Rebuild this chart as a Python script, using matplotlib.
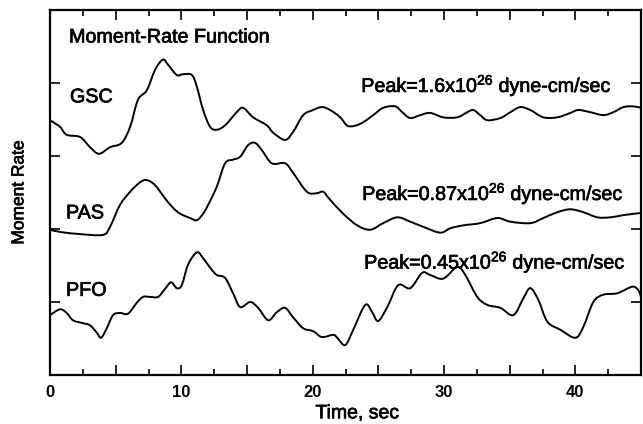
import matplotlib
matplotlib.use("Agg")
import matplotlib.pyplot as plt
import matplotlib.patheffects as pe
from matplotlib.path import Path
from matplotlib.patches import PathPatch
from matplotlib.ticker import MultipleLocator, FuncFormatter

plt.rcParams['font.family'] = ['Liberation Sans', 'DejaVu Sans']
plt.rcParams['mathtext.fontset'] = 'custom'
plt.rcParams['mathtext.rm'] = 'Liberation Sans'
plt.rcParams['mathtext.it'] = 'Liberation Sans:italic'
plt.rcParams['mathtext.bf'] = 'Liberation Sans:bold'

# Time (sec) and relative moment rate (stacked, arbitrary units)
gsc_t = [0.0, 0.76, 1.27, 2.29, 3.05, 3.73, 4.57, 5.46, 6.10, 6.70, 7.37, 8.00, 8.59, 8.99,
         9.65, 10.13, 10.80, 11.18, 11.66, 12.19, 12.70, 13.33, 14.22, 14.70, 15.47, 16.51,
         16.99, 17.90, 18.51, 19.28, 20.04, 20.70, 21.33, 22.10, 22.70, 23.62, 24.61, 25.37,
         26.29, 26.82, 27.43, 28.19, 28.95, 29.94, 31.01, 31.77, 32.23, 32.76, 33.30, 34.29,
         35.05, 35.81, 36.57, 37.56, 38.63, 39.62, 40.23, 41.14, 42.13, 42.90, 43.66, 44.42, 45.0]
gsc_v = [3.49, 3.40, 3.29, 3.26, 3.12, 3.03, 3.12, 3.18, 3.40, 3.77, 3.90, 4.18, 4.32, 4.25,
         4.11, 4.12, 4.11, 3.95, 3.63, 3.40, 3.36, 3.42, 3.60, 3.66, 3.53, 3.42,
         3.32, 3.22, 3.33, 3.56, 3.63, 3.67, 3.63, 3.53, 3.41, 3.44, 3.56, 3.66,
         3.68, 3.60, 3.52, 3.56, 3.59, 3.53, 3.53, 3.60, 3.63, 3.56, 3.49, 3.52,
         3.60, 3.67, 3.63, 3.53, 3.53, 3.59, 3.63, 3.60, 3.56, 3.60, 3.67, 3.68, 3.66]

pas_t = [0.0, 0.76, 2.29, 4.04, 4.57, 5.33, 6.10, 6.86, 7.37, 8.00, 8.76, 9.37, 9.90, 10.67,
         11.18, 11.66, 12.04, 12.70, 13.33, 13.94, 14.48, 15.09, 15.62, 16.13, 16.89, 17.90,
         18.51, 19.56, 20.32, 20.80, 21.33, 22.32, 23.39, 24.38, 25.37, 26.44, 27.43, 28.42,
         29.71, 30.48, 31.47, 32.76, 34.06, 35.05, 36.57, 37.56, 38.63, 39.62, 40.61, 41.68,
         42.67, 43.66, 45.0]
pas_v = [1.99, 1.96, 1.93, 1.92, 2.03, 2.33, 2.51, 2.64, 2.67, 2.60, 2.42, 2.29, 2.21, 2.15,
         2.12, 2.21, 2.33, 2.58, 2.90, 2.95, 2.99, 3.15, 3.18, 3.08, 2.90, 2.90,
         2.77, 2.51, 2.49, 2.51, 2.40, 2.21, 2.05, 1.99, 2.08, 2.16, 2.10, 2.03,
         1.95, 2.01, 2.05, 2.08, 2.15, 2.10, 2.08, 2.15, 2.23, 2.27, 2.23, 2.16,
         2.16, 2.19, 2.22]

pfo_t = [0.0, 0.76, 1.27, 1.75, 2.51, 3.05, 3.56, 3.89, 4.32, 4.80, 5.33, 5.94, 6.61, 7.09,
         7.62, 8.23, 8.76, 9.22, 9.65, 10.03, 10.51, 11.18, 11.66, 12.19, 12.70, 13.33,
         13.94, 14.48, 15.24, 15.85, 16.61, 17.27, 17.90, 18.51, 19.28, 20.04, 20.70, 21.56,
         21.87, 22.48, 23.09, 24.00, 24.53, 24.99, 25.68, 26.51, 27.43, 28.34, 28.95, 29.94,
         31.01, 31.62, 32.53, 33.30, 34.29, 35.28, 36.04, 36.57, 37.18, 37.87, 38.86, 40.00,
         40.61, 41.37, 42.13, 43.20, 44.34, 44.80, 45.0]
pfo_v = [0.82, 0.90, 0.85, 0.75, 0.71, 0.68, 0.58, 0.51, 0.64, 0.82, 0.85, 0.84, 0.99, 1.07,
         1.07, 1.07, 1.18, 1.27, 1.19, 1.23, 1.51, 1.68, 1.60, 1.47, 1.37, 1.33,
         1.12, 0.93, 1.00, 0.92, 0.75, 0.86, 0.92, 0.79, 0.64, 0.60, 0.52, 0.55,
         0.51, 0.41, 0.62, 0.96, 0.86, 0.74, 0.93, 1.23, 1.19, 1.40, 1.37, 1.32,
         1.48, 1.37, 1.07, 0.96, 0.92, 0.82, 1.05, 1.19, 1.03, 0.73, 0.62, 0.51,
         0.66, 1.00, 1.10, 1.12, 1.21, 1.16, 1.07]

stations = ["GSC", "PAS", "PFO"]
peaks = ["Peak=1.6x10$^{26}$ dyne-cm/sec", "Peak=0.87x10$^{26}$ dyne-cm/sec",
         "Peak=0.45x10$^{26}$ dyne-cm/sec"]


def smooth_path(t, v):
    """Catmull-Rom curve through the read points, as cubic Bezier segments."""
    pts = list(zip(t, v))
    verts = [pts[0]]
    codes = [Path.MOVETO]
    n = len(pts)
    for i in range(n - 1):
        p0 = pts[i - 1] if i > 0 else pts[i]
        p1 = pts[i]
        p2 = pts[i + 1]
        p3 = pts[i + 2] if i + 2 < n else pts[i + 1]
        c1 = (p1[0] + (p2[0] - p0[0]) / 6, p1[1] + (p2[1] - p0[1]) / 6)
        c2 = (p2[0] - (p3[0] - p1[0]) / 6, p2[1] - (p3[1] - p1[1]) / 6)
        verts += [c1, c2, p2]
        codes += [Path.CURVE4] * 3
    return Path(verts, codes)


fig = plt.figure(figsize=(6.43, 4.24), dpi=100)
ax = fig.add_axes([50/643, 49/424, 591/643, 365/424])

for t, v in [(gsc_t, gsc_v), (pas_t, pas_v), (pfo_t, pfo_v)]:
    ax.add_patch(PathPatch(smooth_path(t, v), facecolor='none', edgecolor='black',
                           lw=1.4, joinstyle='round', capstyle='round'))

ax.set_xlim(0, 45)
ax.set_ylim(0, 5)

ax.xaxis.set_major_locator(MultipleLocator(5))
ax.xaxis.set_minor_locator(MultipleLocator(2.5))
ax.xaxis.set_major_formatter(FuncFormatter(lambda x, p: f"{int(x)}" if int(round(x)) % 10 == 0 else ""))
ax.yaxis.set_major_locator(MultipleLocator(1))
ax.set_yticklabels([])
ax.tick_params(axis='both', which='both', direction='in', top=True, right=True, width=1.2)
ax.tick_params(axis='both', which='major', length=7, labelsize=12, pad=7)
ax.tick_params(axis='x', which='minor', length=4)
ax.tick_params(axis='y', which='minor', left=False, right=False)
for lab in ax.get_xticklabels():
    lab.set_fontweight('bold')
for sp in ax.spines.values():
    sp.set_linewidth(1.6)

heavy = [pe.withStroke(linewidth=0.5, foreground='black')]

ax.set_xlabel("Time, sec", fontsize=14, labelpad=5, path_effects=heavy)
ax.xaxis.set_label_coords(0.52, -0.083)
ax.set_ylabel("Moment Rate", fontsize=12.5, labelpad=10, path_effects=heavy)

fs = 14.2
ax.text(1.45, 4.63, "Moment-Rate Function", fontsize=fs, va='center', ha='left', path_effects=heavy)
ax.text(1.52, 3.81, stations[0], fontsize=fs, va='center', ha='left', path_effects=heavy)
ax.text(1.22, 2.22, stations[1], fontsize=fs, va='center', ha='left', path_effects=heavy)
ax.text(1.22, 1.16, stations[2], fontsize=fs, va='center', ha='left', path_effects=heavy)
ax.text(23.7, 3.97, peaks[0], fontsize=fs, va='center', ha='left', path_effects=heavy)
ax.text(23.77, 2.49, peaks[1], fontsize=fs, va='center', ha='left', path_effects=heavy)
ax.text(23.92, 1.55, peaks[2], fontsize=fs, va='center', ha='left', path_effects=heavy)

fig.savefig("out.png", dpi=100)
